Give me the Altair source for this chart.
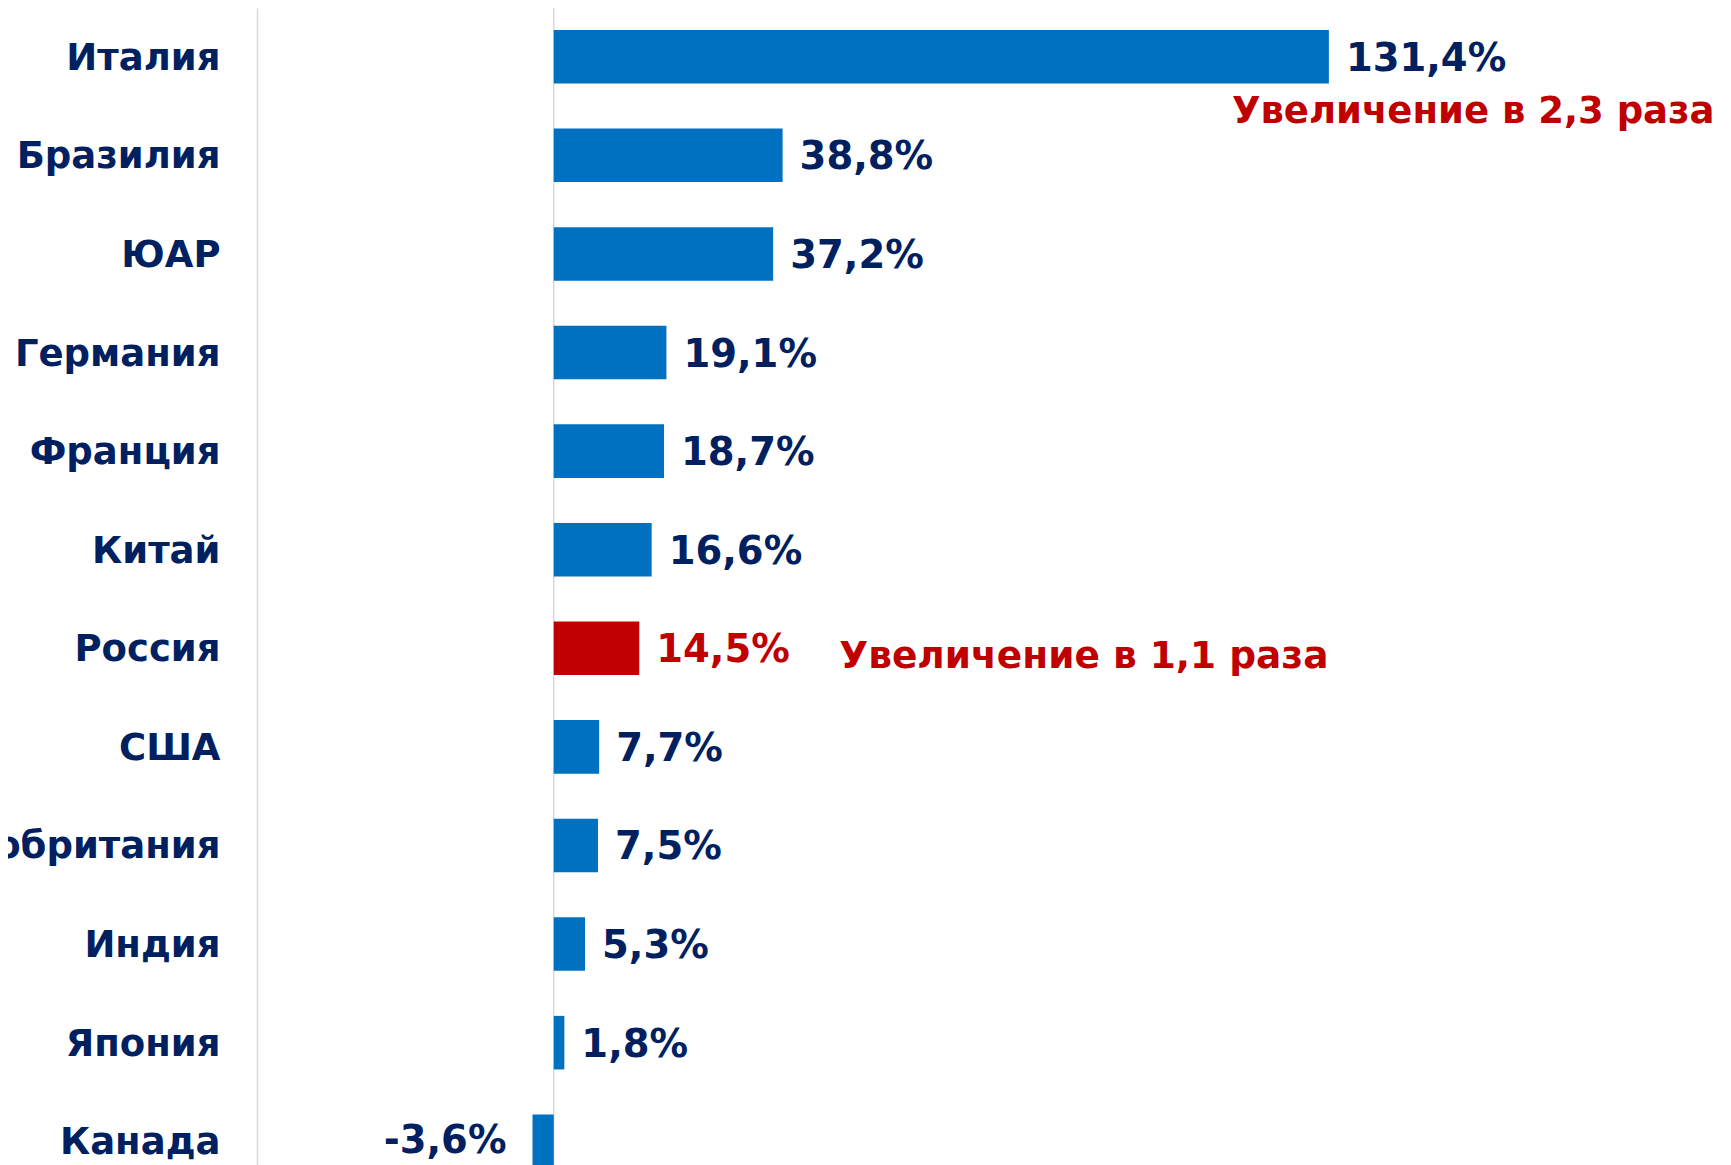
import altair as alt
import pandas as pd

countries = ["Италия", "Бразилия", "ЮАР", "Германия", "Франция", "Китай",
             "Россия", "США", "Великобритания", "Индия", "Япония", "Канада"]
values = [131.4, 38.8, 37.2, 19.1, 18.7, 16.6, 14.5, 7.7, 7.5, 5.3, 1.8, -3.6]
highlight = "Россия"
annot_top_country = "Италия"
annot_top_text = "Увеличение в 2,3 раза"
annot_hl_text = "Увеличение в 1,1 раза"

BLUE = "#0070C0"
RED = "#C00000"
NAVY = "#002060"
GRAY = "#D9D9D9"
FONT = "DejaVu Sans"

df = pd.DataFrame({"country": countries, "value": values})
df["label"] = [f"{v:.1f}".replace(".", ",") + "%" for v in values]
df["hl"] = [1 if c == highlight else 0 for c in countries]

ann = pd.DataFrame({
    "country": [annot_top_country, highlight],
    "value": [values[countries.index(annot_top_country)], values[countries.index(highlight)]],
    "text": [annot_top_text, annot_hl_text],
})

zero_df = pd.DataFrame({"zero": [0]})

xscale = alt.Scale(domain=[-50.3, 197.7], nice=False, zero=False)
yscale = alt.Scale(domain=countries, paddingInner=0.457, paddingOuter=0.223)

y_enc = alt.Y("country:N", sort=countries, scale=yscale, title=None,
              axis=alt.Axis(domainColor=GRAY, domainWidth=1.5, ticks=False, grid=False,
                            labelFont=FONT, labelFontWeight="bold", labelFontSize=37,
                            labelColor=NAVY, labelPadding=37, labelLimit=1000,
                            labelBaseline="alphabetic", labelOffset=13))
y_plain = alt.Y("country:N", sort=countries, scale=yscale)
x_enc = alt.X("value:Q", scale=xscale, axis=None)

is_hl = alt.datum.hl == 1

zero = alt.Chart(zero_df).mark_rule(color=GRAY, strokeWidth=1.5).encode(
    x=alt.X("zero:Q", scale=xscale, axis=None))

bars = alt.Chart(df).mark_bar().encode(
    x=x_enc, y=y_enc,
    color=alt.condition(is_hl, alt.value(RED), alt.value(BLUE)),
)

pos_labels = alt.Chart(df).transform_filter("datum.value >= 0").mark_text(
    align="left", baseline="alphabetic", dx=17, dy=14,
    font=FONT, fontWeight="bold", fontSize=38.5,
).encode(
    x=x_enc, y=y_plain, text="label:N",
    color=alt.condition(is_hl, alt.value(RED), alt.value(NAVY)),
)

neg_labels = alt.Chart(df).transform_filter("datum.value < 0").mark_text(
    align="right", baseline="alphabetic", dx=-26, dy=12,
    font=FONT, fontWeight="bold", fontSize=38.5, color=NAVY,
).encode(x=x_enc, y=y_plain, text="label:N")

ann_top = alt.Chart(ann).transform_filter(
    alt.datum.country == annot_top_country
).mark_text(
    align="left", baseline="alphabetic", dx=-97, dy=66,
    font=FONT, fontWeight="bold", fontSize=37, color=RED,
).encode(x=x_enc, y=y_plain, text="text:N")

ann_hl = alt.Chart(ann).transform_filter(
    alt.datum.country == highlight
).mark_text(
    align="left", baseline="alphabetic", dx=200, dy=20,
    font=FONT, fontWeight="bold", fontSize=37.5, color=RED,
).encode(x=x_enc, y=y_plain, text="text:N")

chart = alt.layer(zero, bars, pos_labels, neg_labels, ann_top, ann_hl).properties(
    width=1463, height=1182,
    autosize=alt.AutoSizeParams(type="none"),
    padding={"left": 249, "top": 0, "right": 0, "bottom": 0},
    background="white",
).configure_view(strokeWidth=0, stroke=None)

chart.save("out.html", embed_options={"renderer": "svg", "actions": False})
